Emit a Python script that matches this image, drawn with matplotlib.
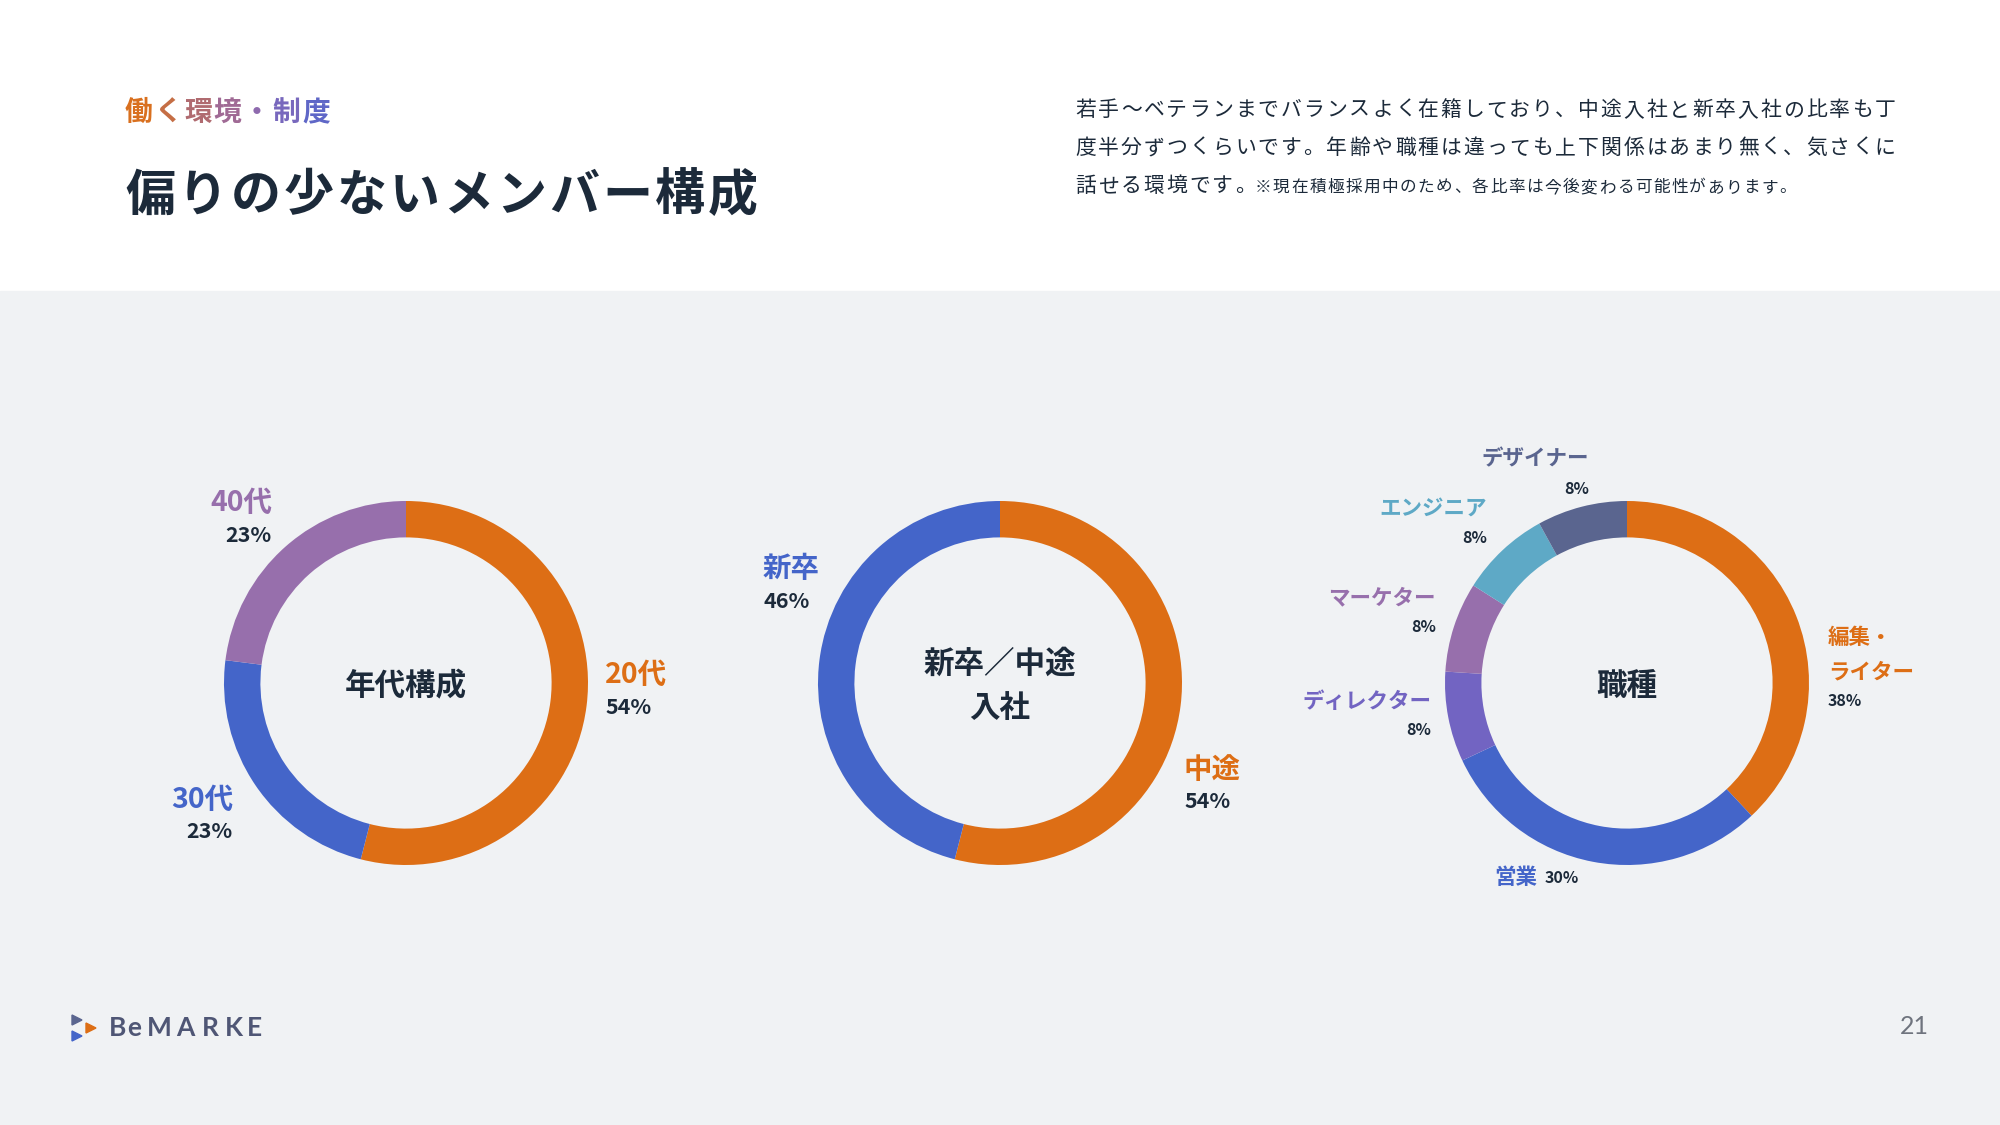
import matplotlib
matplotlib.use('Agg')
import matplotlib.pyplot as plt
from matplotlib.patches import Rectangle, Polygon

plt.rcParams['font.family'] = ['Noto Sans CJK JP', 'DejaVu Sans']

# ---- data ----
age_labels = ['20代', '30代', '40代']
age_values = [54, 23, 23]

hire_labels = ['中途', '新卒']
hire_values = [54, 46]

job_labels = ['編集・\nライター', '営業', 'ディレクター', 'マーケター', 'エンジニア', 'デザイナー']
job_values = [38, 30, 8, 8, 8, 8]

center_titles = ['年代構成', '新卒／中途\n入社', '職種']

# ---- colours ----
NAVY = '#1c2a3a'
ORANGE = '#dd6e15'
BLUE = '#4465c9'
PURPLE = '#976fac'
VIOLET = '#7264c2'
TEAL = '#5ea9c6'
SLATE = '#5a658f'
PANEL = '#f0f2f4'

age_colors = [ORANGE, BLUE, PURPLE]
hire_colors = [ORANGE, BLUE]
job_colors = [ORANGE, BLUE, VIOLET, PURPLE, TEAL, SLATE]

W, H = 2000, 1125
fig = plt.figure(figsize=(20, 11.25), dpi=100, facecolor='white')
bg = fig.add_axes([0, 0, 1, 1])
bg.set_xlim(0, W)
bg.set_ylim(H, 0)
bg.axis('off')
bg.add_patch(Rectangle((0, 291), W, H - 291, color=PANEL, zorder=0))


def spaced(x, y, s, size, adv, color, weight='normal', va='center'):
    # 全角文字を1文字ずつ置いて字間をあける
    cols = color if isinstance(color, list) else [color] * len(s)
    for i, ch in enumerate(s):
        bg.text(x + i * adv, y, ch, fontsize=size, fontweight=weight,
                color=cols[i], ha='left', va=va)


# header
sub_cols = ['#d9701f', '#c56e45', '#b06b70', '#a06a95', '#8e6aae', '#7868bd', '#5f67c7']
spaced(125, 113, '働く環境・制度', 20, 29.5, sub_cols, weight='bold')
spaced(125, 196, '偏りの少ないメンバー構成', 36, 53.0, NAVY, weight='bold')

para = ['若手〜ベテランまでバランスよく在籍しており、中途入社と新卒入社の比率も丁',
        '度半分ずつくらいです。年齢や職種は違っても上下関係はあまり無く、気さくに',
        '話せる環境です。']
note = '※現在積極採用中のため、各比率は今後変わる可能性があります。'
for i, line in enumerate(para):
    spaced(1075, 116 + i * 38, line, 15, 22.85, NAVY, va='baseline')
spaced(1075 + 8 * 22.85 - 3, 192, note, 12, 18.1, NAVY, va='baseline')

# ---- donuts ----
R = 182
centers = [(406, 683), (1000, 683), (1627, 683)]
series = [(age_values, age_colors), (hire_values, hire_colors), (job_values, job_colors)]

for (cx, cy), (vals, cols), title in zip(centers, series, center_titles):
    ax = fig.add_axes([(cx - R) / W, 1 - (cy + R) / H, 2 * R / W, 2 * R / H])
    ax.pie(vals, colors=cols, startangle=90, counterclock=False, radius=1,
           wedgeprops=dict(width=0.2, linewidth=0))
    ax.set_xlim(-1, 1)
    ax.set_ylim(-1, 1)
    ax.axis('off')
    lines = title.split('\n')
    for j, t in enumerate(lines):
        bg.text(cx, cy + 3 - 22 * (len(lines) - 1) + 44 * j, t, fontsize=22,
                fontweight='bold', color=NAVY, ha='center', va='center')

# label layout: (x, y, ha) for name and for percentage
age_name_pos = [(605, 675, 'left'), (233, 800, 'right'), (272, 503, 'right')]
age_pct_pos = [(605, 707, 'left'), (233, 832, 'right'), (272, 535, 'right')]
hire_name_pos = [(1184, 770, 'left'), (763, 569, 'left')]
hire_pct_pos = [(1184, 802, 'left'), (763, 602, 'left')]
job_name_pos = [(1828, 638, 'left'), (1494, 878, 'left'), (1431, 701, 'right'),
                (1436, 598, 'right'), (1487, 508, 'right'), (1589, 459, 'right')]
job_pct_pos = [(1828, 701, 'left'), (1545, 878, 'left'), (1431, 730, 'right'),
               (1436, 627, 'right'), (1487, 538, 'right'), (1589, 489, 'right')]

groups = [(age_labels, age_values, age_colors, age_name_pos, age_pct_pos, 20.5, 15.5),
          (hire_labels, hire_values, hire_colors, hire_name_pos, hire_pct_pos, 20.5, 15.5),
          (job_labels, job_values, job_colors, job_name_pos, job_pct_pos, 15.5, 11.5)]

for labels, vals, cols, npos, ppos, nsize, psize in groups:
    for lab, v, c, (nx, ny, nha), (px, py, pha) in zip(labels, vals, cols, npos, ppos):
        for k, part in enumerate(lab.split('\n')):
            bg.text(nx, ny + 34 * k, part, fontsize=nsize, fontweight='bold',
                    color=c, ha=nha, va='center')
        bg.text(px, py, f'{v}%', fontsize=psize, fontweight='bold',
                color=NAVY, ha=pha, va='center')

# ---- footer logo / page ----
bg.add_patch(Polygon([(72, 1015), (82, 1020), (72, 1025)], color=SLATE))
bg.add_patch(Polygon([(72, 1031), (82, 1036), (72, 1041)], color=BLUE))
bg.add_patch(Polygon([(86, 1023), (96, 1028), (86, 1033)], color=ORANGE))
for ch, x in zip('BeMARKE', [118, 134, 159, 185, 210, 233.5, 254.5]):
    bg.text(x, 1028, ch, fontsize=19, color='#4f5675', ha='center', va='center',
            family=['Lato', 'DejaVu Sans'], fontweight='bold')
bg.text(1914, 1027, '21', fontsize=18, color='#6f747e', ha='center', va='center',
        family=['Lato', 'DejaVu Sans'])

plt.savefig('out.png', dpi=100, facecolor='white')
